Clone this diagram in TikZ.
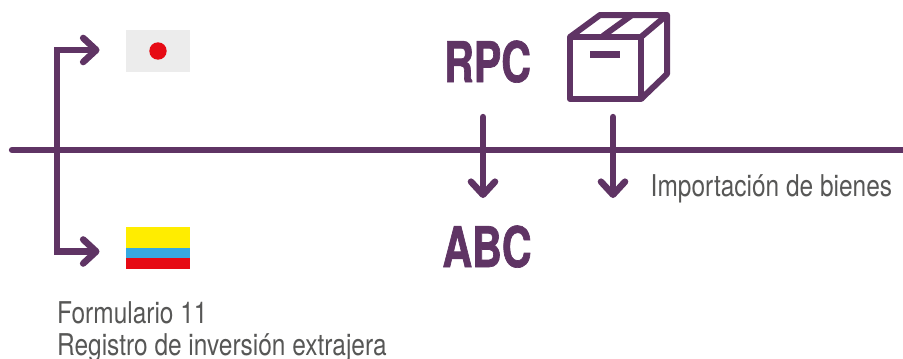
\documentclass[tikz,border=0pt]{standalone}
\usepackage{fontspec}
\usepackage{xcolor}
\usetikzlibrary{arrows.meta}
\setmainfont{TeX Gyre Heros}
\newfontfamily\narrowfont[FakeStretch=0.815]{TeX Gyre Heros}
\newfontfamily\rpcfont[FakeStretch=0.735,FakeBold=1.2]{TeX Gyre Heros}
\definecolor{tramo}{HTML}{5F3464}
\definecolor{rotulo}{HTML}{575756}
\definecolor{rojo}{HTML}{E60A14}
\definecolor{amarillo}{HTML}{FFED00}
\definecolor{azul}{HTML}{36A9E1}
\definecolor{grisjp}{HTML}{ECECEC}
\tikzset{
	tramoline/.style={draw=tramo,line width=6.3pt,line cap=round},
	tramoarrow/.style={tramoline,-{Straight Barb[length=13pt,width=24pt,round,line width=6.6pt]}},
	sigla/.style={text=tramo,font=\rpcfont\bfseries\fontsize{56}{56}\selectfont,inner sep=0pt,anchor=base},
	rotulotxt/.style={text=rotulo,font=\narrowfont\fontsize{30}{30}\selectfont,inner sep=0pt,anchor=base west},
	flagbox/.style={minimum width=64pt,inner sep=0pt,outer sep=0pt}
}
\begin{document}
\begin{tikzpicture}[x=1pt,y=-1pt]
	\useasboundingbox (0,0) rectangle (903,359);
	\node[flagbox,minimum height=42pt,fill=grisjp] (japan) at (158,51) {};
	\fill[rojo] (japan.center) circle (8.7);
	\node[flagbox,minimum height=42pt,fill=rojo] (colombia) at (158,248) {};
	\fill[amarillo] (colombia.north west) rectangle (190,248);
	\fill[azul] (126,248) rectangle (190,258);
	\node[sigla] (rpc) at (487.5,82) {RPC};
	\node[sigla] (abc) at (487,267) {ABC};
	\node[rotulotxt] (import) at (650.5,196) {Importación de bienes};
	\node[rotulotxt] (form) at (57,323) {Formulario 11};
	\node[rotulotxt] (reg) at (57,355) {Registro de inversión extrajera};
	\coordinate (axisL) at (12,150);
	\coordinate (axisR) at (906,150);
	\coordinate (trunk) at (57,150);
	\coordinate (japanend) at (99.5,50);
	\coordinate (colombiaend) at (99.5,251.5);
	\coordinate (rpcout) at (483,117);
	\coordinate (abcin) at (483,198);
	\coordinate (boxout) at (613,117);
	\coordinate (boxin) at (613,198);
	\draw[tramoline] (axisL) -- (axisR);
	\draw[tramoarrow,line cap=butt] (trunk) |- (japanend);
	\draw[tramoarrow,line cap=butt] (trunk) |- (colombiaend);
	\draw[tramoarrow] (rpcout) -- (abcin);
	\draw[tramoarrow] (boxout) -- (boxin);
	\draw[tramo,line width=6pt,line join=round] (570,37) rectangle (641,99);
	\draw[tramo,line width=6pt,line join=round] (570,37) -- (600,15) -- (667,15) -- (667,74) -- (641,99);
	\draw[tramo,line width=6pt] (641,37) -- (667,15);
	\draw[tramo,line width=6pt] (603,36) -- (632,15);
	\fill[tramo] (590,51) rectangle (620,58);
\end{tikzpicture}
\end{document}
